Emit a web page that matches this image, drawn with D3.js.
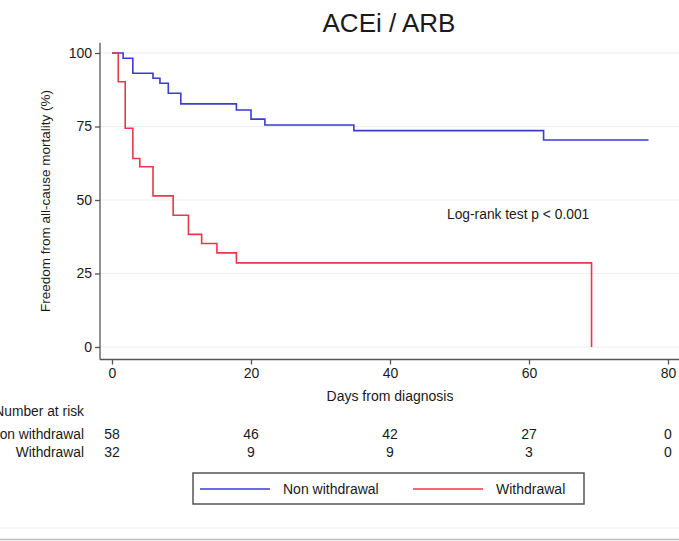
<!DOCTYPE html>
<html>
<head>
<meta charset="utf-8">
<script src="https://d3js.org/d3.v7.min.js"></script>
<style>
  body { margin: 0; background: #fff; }
  text { font-family: "Liberation Sans", Arial, sans-serif; fill: #1a1a1a; }
</style>
</head>
<body>
<div id="chart"></div>
<script>
// step curves (days, percent alive)
var nonWdDays = [0, 1.6, 3, 5.9, 6.9, 8.1, 9.9, 17.9, 20, 22, 34.8, 62.1, 77.2];
var nonWdSurv = [100, 98.2, 93.1, 91.4, 89.7, 86.3, 82.7, 80.6, 77.5, 75.5, 73.6, 70.4, 70.4];
var wdDays = [0, 0.9, 1.9, 3, 4, 5.9, 8.8, 11, 12.9, 15.1, 17.9, 69];
var wdSurv = [100, 90.2, 74.4, 64.1, 61.3, 51.4, 44.8, 38.3, 35.2, 32, 28.6, 0];

var xTicks = [0, 20, 40, 60, 80];
var yTicks = [0, 25, 50, 75, 100];

// number at risk table
var riskDays = [0, 20, 40, 60, 80];
var nonWdRisk = [58, 46, 42, 27, 0];
var wdRisk = [32, 9, 9, 3, 0];

var svgWidth = 679;
var svgHeight = 541;

var margin = { top: 53, right: 11, bottom: 194, left: 112 };
var width = svgWidth - margin.left - margin.right;
var height = svgHeight - margin.top - margin.bottom;

var svg = d3.select("#chart")
    .append("svg")
    .attr("width", svgWidth)
    .attr("height", svgHeight);

var chartGroup = svg.append("g")
    .attr("transform", `translate(${margin.left}, ${margin.top})`);

var xScale = d3.scaleLinear().domain([0, 80]).range([0, width]);
var yScale = d3.scaleLinear().domain([0, 100]).range([height, 0]);

var axisX = height + 12.5;
var axisY = -12;

// grid
chartGroup.selectAll(".grid")
    .data(yTicks)
    .enter()
    .append("line")
    .attr("x1", axisY)
    .attr("x2", svgWidth)
    .attr("y1", d => yScale(d))
    .attr("y2", d => yScale(d))
    .attr("stroke", "#ececec")
    .attr("stroke-width", 1);

// axes
var leftAxis = d3.axisLeft(yScale).tickValues(yTicks).tickSize(5).tickPadding(3);
var bottomAxis = d3.axisBottom(xScale).tickValues(xTicks).tickSize(5).tickPadding(4);

var gy = chartGroup.append("g")
    .attr("transform", `translate(${axisY}, 0)`)
    .call(leftAxis);
var gx = chartGroup.append("g")
    .attr("transform", `translate(0, ${axisX})`)
    .call(bottomAxis);

[gx, gy].forEach(function(g) {
    g.select(".domain").remove();
    g.selectAll("line").attr("stroke", "#555").attr("stroke-width", 1.3);
    g.selectAll("text").style("font-size", "14px").attr("fill", "#1a1a1a")
        .style("font-family", "'Liberation Sans', Arial, sans-serif");
});

chartGroup.append("line")
    .attr("x1", axisY).attr("x2", axisY)
    .attr("y1", yScale(103.5)).attr("y2", axisX)
    .attr("stroke", "#555").attr("stroke-width", 1.3);
chartGroup.append("line")
    .attr("x1", axisY).attr("x2", svgWidth)
    .attr("y1", axisX).attr("y2", axisX)
    .attr("stroke", "#555").attr("stroke-width", 1.3);

// curves
var stepLine = d3.line()
    .x(d => xScale(d[0]))
    .y(d => yScale(d[1]))
    .curve(d3.curveStepAfter);

chartGroup.append("path")
    .datum(d3.zip(nonWdDays, nonWdSurv))
    .attr("d", stepLine)
    .attr("fill", "none")
    .attr("stroke", "#3b3bd6")
    .attr("stroke-width", 1.6);

chartGroup.append("path")
    .datum(d3.zip(wdDays, wdSurv))
    .attr("d", stepLine)
    .attr("fill", "none")
    .attr("stroke", "#e8384c")
    .attr("stroke-width", 1.6);

// labels
svg.append("text")
    .attr("x", 389)
    .attr("y", 32)
    .attr("text-anchor", "middle")
    .style("font-size", "26px")
    .text("ACEi / ARB");

svg.append("text")
    .attr("transform", "rotate(-90)")
    .attr("x", -201)
    .attr("y", 50)
    .attr("text-anchor", "middle")
    .style("font-size", "13.5px")
    .text("Freedom from all-cause mortality (%)");

svg.append("text")
    .attr("x", margin.left + xScale(40))
    .attr("y", 401)
    .attr("text-anchor", "middle")
    .style("font-size", "14px")
    .text("Days from diagnosis");

svg.append("text")
    .attr("x", 447)
    .attr("y", 219)
    .style("font-size", "13.8px")
    .text("Log-rank test p < 0.001");

// number at risk
svg.append("text")
    .attr("x", 84)
    .attr("y", 416)
    .attr("text-anchor", "end")
    .style("font-size", "13.8px")
    .text("Number at risk");

var riskRows = [
    { label: "Non withdrawal", values: nonWdRisk, y: 439 },
    { label: "Withdrawal", values: wdRisk, y: 457 }
];

riskRows.forEach(function(row) {
    svg.append("text")
        .attr("x", 84)
        .attr("y", row.y)
        .attr("text-anchor", "end")
        .style("font-size", "13.8px")
        .text(row.label);
    svg.selectAll(null)
        .data(d3.zip(riskDays, row.values))
        .enter()
        .append("text")
        .attr("x", d => margin.left + xScale(d[0]))
        .attr("y", row.y)
        .attr("text-anchor", "middle")
        .style("font-size", "14px")
        .text(d => d[1]);
});

// legend
var legend = svg.append("g");
legend.append("rect")
    .attr("x", 193).attr("y", 473)
    .attr("width", 391).attr("height", 31)
    .attr("fill", "#fff")
    .attr("stroke", "#555")
    .attr("stroke-width", 1.5);

var legendItems = [
    { label: "Non withdrawal", color: "#3b3bd6", x: 200 },
    { label: "Withdrawal", color: "#e8384c", x: 413 }
];
legendItems.forEach(function(item) {
    legend.append("line")
        .attr("x1", item.x).attr("x2", item.x + 70)
        .attr("y1", 489).attr("y2", 489)
        .attr("stroke", item.color)
        .attr("stroke-width", 1.6);
    legend.append("text")
        .attr("x", item.x + 83)
        .attr("y", 494)
        .style("font-size", "14px")
        .text(item.label);
});

// faint frame lines at the bottom
svg.append("line")
    .attr("x1", 0).attr("x2", svgWidth)
    .attr("y1", 528).attr("y2", 528)
    .attr("stroke", "#f0f0f0");
svg.append("line")
    .attr("x1", 0).attr("x2", svgWidth)
    .attr("y1", 539.5).attr("y2", 539.5)
    .attr("stroke", "#bbb")
    .attr("stroke-width", 1.5);
</script>
</body>
</html>
